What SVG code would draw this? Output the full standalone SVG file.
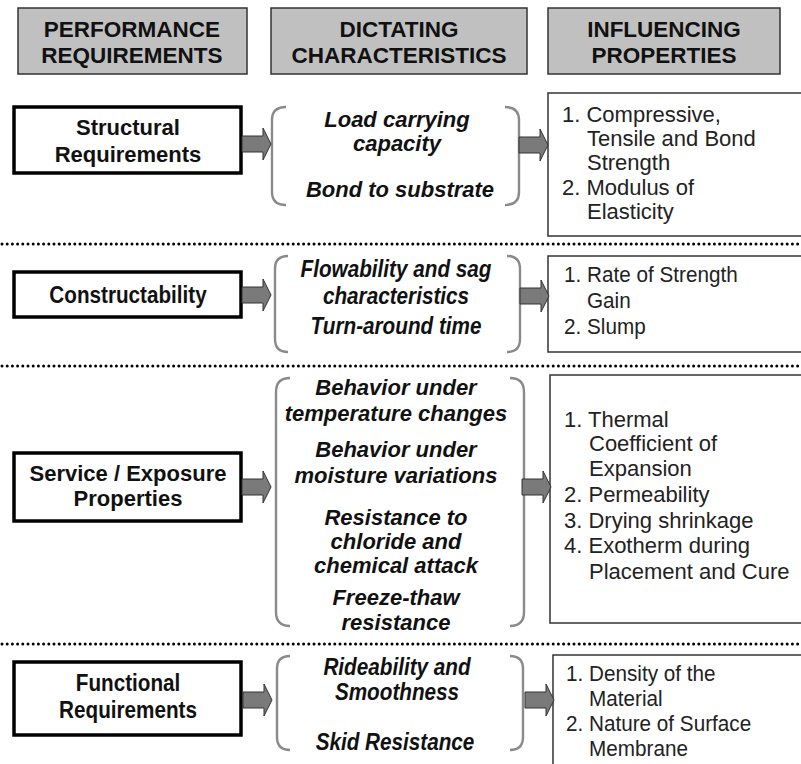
<svg xmlns="http://www.w3.org/2000/svg" width="801" height="764" viewBox="0 0 801 764">
  <style>
    .hdr { fill: #c0c0c0; stroke: #333; stroke-width: 1.5; }
    .hdrt { font-family: "Liberation Sans", Arial, sans-serif; font-weight: bold; font-size: 22.5px; fill: #111; text-anchor: middle; }
    .req { fill: #fff; stroke: #000; stroke-width: 3.5; }
    .reqt { font-family: "Liberation Sans", Arial, sans-serif; font-weight: bold; font-size: 22px; fill: #111; text-anchor: middle; }
    .chr { font-family: "Liberation Sans", Arial, sans-serif; font-weight: bold; font-style: italic; font-size: 22px; fill: #111; text-anchor: middle; }
    .prop { fill: #fff; stroke: #333; stroke-width: 1.5; }
    .propt { font-family: "Liberation Sans", Arial, sans-serif; font-size: 22px; fill: #222; }
    .nreq { font-size: 23.5px; }
    .nchr { font-size: 23px; }
    .nprop { font-size: 22.5px; }
    .brk { fill: none; stroke: #8a8a8a; stroke-width: 2.4; }
    .arr { fill: #7a7a7a; stroke: #333; stroke-width: 1; }
    .dots { stroke: #000; stroke-width: 3; stroke-linecap: round; stroke-dasharray: 0 5.2; }
  </style>
  <defs>
    <path id="arrow" class="arr" d="M0,-8 H21 V-16 L29,0 L21,16 V8 H0 Z"/>
  </defs>
  <rect width="801" height="764" fill="#fff"/>

  <!-- column headers -->
  <g id="hdr-performance">
    <rect class="hdr" x="18" y="8" width="229" height="66"/>
    <text class="hdrt" x="132" y="37">PERFORMANCE</text>
    <text class="hdrt" x="132" y="63">REQUIREMENTS</text>
  </g>
  <g id="hdr-dictating">
    <rect class="hdr" x="271" y="8" width="256" height="66"/>
    <text class="hdrt" x="399" y="37">DICTATING</text>
    <text class="hdrt" x="399" y="63">CHARACTERISTICS</text>
  </g>
  <g id="hdr-influencing">
    <rect class="hdr" x="548" y="8" width="232" height="66"/>
    <text class="hdrt" x="664" y="37">INFLUENCING</text>
    <text class="hdrt" x="664" y="63">PROPERTIES</text>
  </g>

  <!-- section separators -->
  <g id="separators">
    <line class="dots" x1="2" y1="244" x2="801" y2="244"/>
    <line class="dots" x1="2" y1="366" x2="801" y2="366"/>
    <line class="dots" x1="2" y1="644" x2="801" y2="644"/>
  </g>

  <!-- row 1: structural -->
  <g id="structural">
    <rect class="req" x="14" y="107" width="227" height="66"/>
    <text class="reqt" x="128" y="135">Structural</text>
    <text class="reqt" x="128" y="162">Requirements</text>
  </g>
  <g id="structural-chars">
    <path class="brk" d="M286,107 Q272,107 272,120 V192 Q272,205 286,205"/>
    <path class="brk" d="M505,107 Q519,107 519,120 V192 Q519,205 505,205"/>
    <text class="chr" x="397" y="127">Load carrying</text>
    <text class="chr" x="397" y="151">capacity</text>
    <text class="chr" x="400" y="197">Bond to substrate</text>
  </g>
  <g id="structural-props">
    <rect class="prop" x="548" y="93" width="260" height="143"/>
    <text class="propt" x="562" y="122">1. Compressive,</text>
    <text class="propt" x="587" y="146">Tensile and Bond</text>
    <text class="propt" x="587" y="170">Strength</text>
    <text class="propt" x="562" y="195">2. Modulus of</text>
    <text class="propt" x="587" y="219">Elasticity</text>
  </g>

  <!-- row 2: constructability (narrow lettering) -->
  <g id="constructability">
    <rect class="req" x="14" y="272" width="227" height="45"/>
    <text class="reqt nreq" transform="translate(128 303) scale(0.88 1)">Constructability</text>
  </g>
  <g id="constructability-chars">
    <path class="brk" d="M288,256 Q275,256 275,269 V339 Q275,352 288,352"/>
    <path class="brk" d="M507,256 Q520,256 520,269 V339 Q520,352 507,352"/>
    <text class="chr nchr" transform="translate(396 277) scale(0.9 1)">Flowability and sag</text>
    <text class="chr nchr" transform="translate(396 304) scale(0.9 1)">characteristics</text>
    <text class="chr nchr" transform="translate(396 334) scale(0.9 1)">Turn-around time</text>
  </g>
  <g id="constructability-props">
    <rect class="prop" x="548" y="256" width="260" height="96"/>
    <text class="propt nprop" transform="translate(564 282) scale(0.92 1)">1. Rate of Strength</text>
    <text class="propt nprop" transform="translate(587 308) scale(0.92 1)">Gain</text>
    <text class="propt nprop" transform="translate(564 334) scale(0.92 1)">2. Slump</text>
  </g>

  <!-- row 3: service / exposure -->
  <g id="service">
    <rect class="req" x="14" y="453" width="227" height="68"/>
    <text class="reqt" x="128" y="481">Service / Exposure</text>
    <text class="reqt" x="128" y="506">Properties</text>
  </g>
  <g id="service-chars">
    <path class="brk" d="M290,378 Q276,378 276,392 V612 Q276,626 290,626"/>
    <path class="brk" d="M510,378 Q524,378 524,392 V612 Q524,626 510,626"/>
    <text class="chr" x="396" y="395">Behavior under</text>
    <text class="chr" x="396" y="421">temperature changes</text>
    <text class="chr" x="396" y="457">Behavior under</text>
    <text class="chr" x="396" y="483">moisture variations</text>
    <text class="chr" x="396" y="525">Resistance to</text>
    <text class="chr" x="396" y="549">chloride and</text>
    <text class="chr" x="396" y="573">chemical attack</text>
    <text class="chr" x="396" y="605">Freeze-thaw</text>
    <text class="chr" x="396" y="630">resistance</text>
  </g>
  <g id="service-props">
    <rect class="prop" x="550" y="375" width="258" height="248"/>
    <text class="propt" x="564" y="427">1. Thermal</text>
    <text class="propt" x="589" y="451">Coefficient of</text>
    <text class="propt" x="589" y="476">Expansion</text>
    <text class="propt" x="564" y="502">2. Permeability</text>
    <text class="propt" x="564" y="528">3. Drying shrinkage</text>
    <text class="propt" x="564" y="553">4. Exotherm during</text>
    <text class="propt" x="589" y="579">Placement and Cure</text>
  </g>

  <!-- row 4: functional (narrow lettering) -->
  <g id="functional">
    <rect class="req" x="14" y="662" width="227" height="73"/>
    <text class="reqt nreq" transform="translate(128 691) scale(0.88 1)">Functional</text>
    <text class="reqt nreq" transform="translate(128 718) scale(0.88 1)">Requirements</text>
  </g>
  <g id="functional-chars">
    <path class="brk" d="M290,656 Q277,656 277,669 V737 Q277,750 290,750"/>
    <path class="brk" d="M510,656 Q523,656 523,669 V737 Q523,750 510,750"/>
    <text class="chr nchr" transform="translate(397 675) scale(0.9 1)">Rideability and</text>
    <text class="chr nchr" transform="translate(397 700) scale(0.9 1)">Smoothness</text>
    <text class="chr nchr" transform="translate(395 750) scale(0.9 1)">Skid Resistance</text>
  </g>
  <g id="functional-props">
    <rect class="prop" x="553" y="655" width="255" height="115"/>
    <text class="propt nprop" transform="translate(566 681) scale(0.92 1)">1. Density of the</text>
    <text class="propt nprop" transform="translate(589 706) scale(0.92 1)">Material</text>
    <text class="propt nprop" transform="translate(566 731) scale(0.92 1)">2. Nature of Surface</text>
    <text class="propt nprop" transform="translate(589 756) scale(0.92 1)">Membrane</text>
  </g>

  <!-- connectors -->
  <g id="connectors">
    <use href="#arrow" x="242" y="144"/>
    <use href="#arrow" x="519" y="145"/>
    <use href="#arrow" x="242" y="295"/>
    <use href="#arrow" x="520" y="296"/>
    <use href="#arrow" x="242" y="487"/>
    <use href="#arrow" x="522" y="487"/>
    <use href="#arrow" x="243" y="700"/>
    <use href="#arrow" x="525" y="700"/>
  </g>
</svg>
